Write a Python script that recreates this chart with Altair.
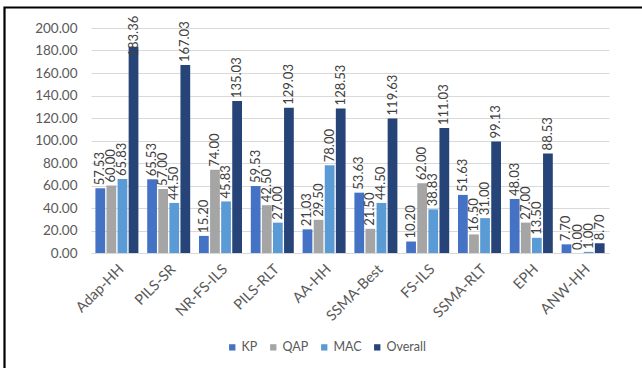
import altair as alt
import pandas as pd

methods = ["Adap-HH", "PILS-SR", "NR-FS-ILS", "PILS-RLT", "AA-HH",
           "SSMA-Best", "FS-ILS", "SSMA-RLT", "EPH", "ANW-HH"]
kp = [57.53, 65.53, 15.20, 59.53, 21.03, 53.63, 10.20, 51.63, 48.03, 7.70]
qap = [60.00, 57.00, 74.00, 42.50, 29.50, 21.50, 62.00, 16.50, 27.00, 0.00]
mac = [65.83, 44.50, 45.83, 27.00, 78.00, 44.50, 38.83, 31.00, 13.50, 1.00]
overall = [183.36, 167.03, 135.03, 129.03, 128.53, 119.63, 111.03, 99.13, 88.53, 8.70]

series = ["KP", "QAP", "MAC", "Overall"]
colors = ["#4472C4", "#A5A5A5", "#5B9BD5", "#264478"]

rows = []
for name, vals in zip(series, [kp, qap, mac, overall]):
    for m, v in zip(methods, vals):
        rows.append({"method": m, "series": name, "value": v})
df = pd.DataFrame(rows)

FONT = "Lato"
TXT = "#595959"

x_scale = alt.Scale(paddingInner=0.17, paddingOuter=0.085)
x_axis = alt.Axis(title=None, labelAngle=-45, labelFontSize=14.5,
                  labelColor=TXT, labelFont=FONT, ticks=False,
                  domainColor="#D9D9D9", labelPadding=9)
xo_scale = alt.Scale(paddingInner=0.12)
y_scale = alt.Scale(domain=[0, 200])
y_axis = alt.Axis(title=None, values=list(range(0, 201, 20)),
                  format=".2f", labelFontSize=13.5, labelColor=TXT,
                  labelFont=FONT, ticks=False, domain=False,
                  labelOverlap=False, gridColor="#D9D9D9", labelPadding=14)

bars = alt.Chart(df).mark_bar().encode(
    x=alt.X("method:N", sort=methods, scale=x_scale, axis=x_axis),
    xOffset=alt.XOffset("series:N", sort=series, scale=xo_scale),
    y=alt.Y("value:Q", scale=y_scale, axis=y_axis),
    color=alt.Color("series:N", sort=series,
                    scale=alt.Scale(domain=series, range=colors),
                    legend=alt.Legend(title=None, orient="none", direction="horizontal",
                                      legendX=135, legendY=313, symbolType="square",
                                      symbolSize=40, labelFontSize=12.5, labelFont=FONT,
                                      labelColor=TXT, columnPadding=9, labelOffset=3,
                                      symbolStrokeWidth=0)),
)

# value labels sit above each bar, kept from running past the top of the chart
labels = alt.Chart(df).transform_calculate(
    label_y="min(datum.value, 172)"
).mark_text(angle=270, align="left", baseline="middle", dx=3,
            fontSize=13, font=FONT, color="#404040").encode(
    x=alt.X("method:N", sort=methods, scale=x_scale, axis=x_axis),
    xOffset=alt.XOffset("series:N", sort=series, scale=xo_scale),
    y=alt.Y("label_y:Q", scale=y_scale, axis=y_axis),
    text=alt.Text("value:Q", format=".2f"),
)

frame = alt.Chart(pd.DataFrame({"k": [0]})).mark_rect(
    fill="transparent", stroke="black", strokeWidth=2.2).encode(
    x=alt.value(-86.5), x2=alt.value(700), y=alt.value(-20.5), y2=alt.value(500))

chart = alt.layer(bars, labels, frame).properties(
    width=518, height=225,
    padding={"left": 91, "top": 28, "right": 33, "bottom": 115},
    autosize=alt.AutoSizeParams(type="none"),
    background="white",
).configure_view(stroke=None)

chart.save("out.html", embed_options={"renderer": "svg", "actions": False})
